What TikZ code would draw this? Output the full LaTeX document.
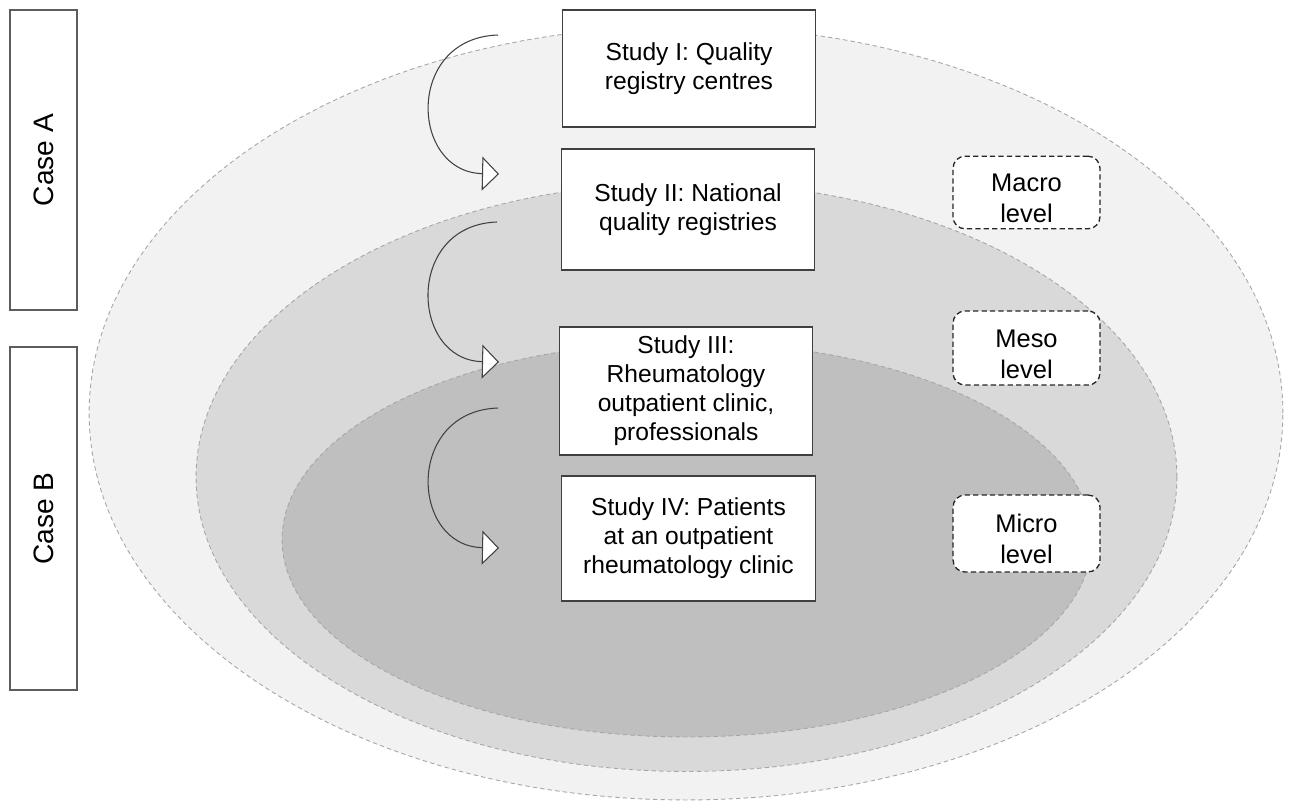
\documentclass[tikz,border=0pt]{standalone}
\usepackage{fontspec}
\setmainfont{Liberation Sans}
\usetikzlibrary{arrows.meta}

\definecolor{outerfill}{HTML}{F2F2F2}
\definecolor{midfill}{HTML}{D9D9D9}
\definecolor{innerfill}{HTML}{BFBFBF}
\definecolor{rimgray}{HTML}{A6A6A6}
\definecolor{boxline}{HTML}{404040}

\newcommand{\levelstrut}{\rule{0pt}{17pt}}

\tikzset{
  rim/.style={draw=rimgray, line width=0.5pt, dash pattern=on 2.5pt off 1.8pt},
  studybox/.style={draw=boxline, fill=white, line width=0.75pt, align=center,
    inner sep=2pt, minimum width=5.07cm, font=\fontsize{14}{16.5}\selectfont},
  casebox/.style={draw=boxline!85, fill=white, line width=0.75pt, rotate=90,
    minimum height=1.34cm, font=\fontsize{16}{19}\selectfont},
  levelbox/.style={draw=black!85, fill=white, line width=0.75pt,
    dash pattern=on 3pt off 1.8pt, rounded corners=0.24cm, align=center,
    minimum width=2.94cm, font=\fontsize{14.5}{17.5}\selectfont},
  flow/.style={draw=black!75, line width=0.6pt,
    -{Triangle[fill=white, length=0.34cm, width=0.68cm]}}
}

\begin{document}
\begin{tikzpicture}[x=0.02cm, y=-0.02cm]
\useasboundingbox (0,0) rectangle (1293,802);

% Levels (outer to inner)
\path[rim, fill=outerfill] (686,413) ellipse [x radius=11.94cm, y radius=7.74cm];
\path[rim, fill=midfill] (686.5,477) ellipse [x radius=9.81cm, y radius=5.89cm];
\path[rim, fill=innerfill] (687,539.5) ellipse [x radius=8.1cm, y radius=3.95cm];

% Cases
\node[casebox, minimum width=6cm] (caseA) at (43.5,160) {Case A};
\node[casebox, minimum width=6.86cm] (caseB) at (43.5,518.5) {Case B};

% Studies
\node[studybox, minimum height=2.34cm] (study1) at (689,68.5)
  {Study I: Quality\\registry centres};
\node[studybox, minimum height=2.42cm] (study2) at (688,209.5)
  {Study II: National\\quality registries};
\node[studybox, minimum height=2.56cm] (study3) at (686,391)
  {Study III:\\Rheumatology\\outpatient clinic,\\professionals};
\node[studybox, minimum height=2.5cm] (study4) at (688.5,538.5)
  {Study IV: Patients\\at an outpatient\\rheumatology clinic};

% Level labels
\node[levelbox, minimum height=1.42cm] (macro) at (1026.5,192.5) {\levelstrut Macro\\level};
\node[levelbox, minimum height=1.48cm] (meso) at (1026.5,348) {\levelstrut Meso\\level};
\node[levelbox, minimum height=1.54cm] (micro) at (1026.5,533.5) {\levelstrut Micro\\level};

% Flow between studies
\coordinate (from1) at (498,35);
\coordinate (to2) at (499,174);
\coordinate (from2) at (497,222);
\coordinate (to3) at (499,362);
\coordinate (from3) at (498,408);
\coordinate (to4) at (499,548);
\draw[flow] (from1) .. controls (405,38) and (410,172) .. (to2);
\draw[flow] (from2) .. controls (405,225) and (410,360) .. (to3);
\draw[flow] (from3) .. controls (405,411) and (410,546) .. (to4);

\end{tikzpicture}
\end{document}
